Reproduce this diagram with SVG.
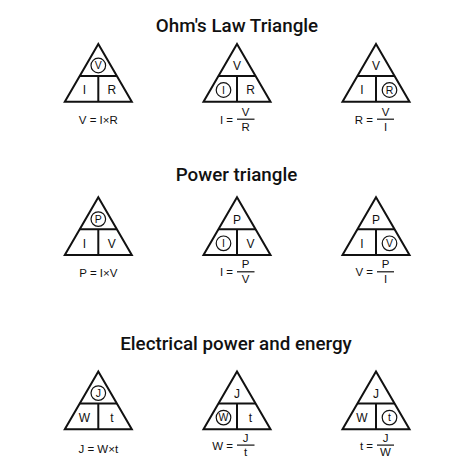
<svg xmlns="http://www.w3.org/2000/svg" width="474" height="474" viewBox="0 0 474 474">
<defs>
<style>
.tri{fill:none;stroke:#111;stroke-width:2;stroke-linejoin:miter}
.div{stroke:#111;stroke-width:2}
.c{fill:none;stroke:#111;stroke-width:1.2}
.fl{stroke:#111;stroke-width:1.2}
.t{font-family:"Roboto","Liberation Sans",sans-serif;font-weight:500;font-size:18.8px;fill:#111;text-anchor:middle}
.l{font-family:"Liberation Sans","Arial",sans-serif;font-size:12px;fill:#111;text-anchor:middle}
.lc{font-family:"Liberation Sans","Arial",sans-serif;font-size:10.5px;fill:#111;text-anchor:middle}
.f{font-family:"Liberation Sans","Arial",sans-serif;font-size:11.5px;fill:#111;text-anchor:middle}
.fe{font-family:"Liberation Sans","Arial",sans-serif;font-size:11.5px;fill:#111;text-anchor:end}
</style>
<g id="shape">
<path class="tri" d="M0,0 L-33.5,57.7 L33.5,57.7 Z"/>
<line class="div" x1="-18.6" y1="32" x2="18.6" y2="32"/>
<line class="div" x1="0" y1="32" x2="0" y2="57.7"/>
</g>
</defs>
<rect width="474" height="474" fill="#fff"/>

<text class="t" x="237" y="31.5">Ohm's Law Triangle</text>
<text class="t" x="236.5" y="181">Power triangle</text>
<text class="t" x="236" y="350">Electrical power and energy</text>

<!-- Row 1 -->
<g id="ohm-v" transform="translate(98.3,44)">
<use href="#shape"/>
<circle class="c" cx="0" cy="21.5" r="7.3"/>
<text class="lc" x="0" y="25.3">V</text>
<text class="l" x="-14" y="50.3">I</text>
<text class="l" x="13.5" y="50.3">R</text>
<text class="f" x="0" y="80.2">V = I×R</text>
</g>
<g id="ohm-i" transform="translate(237,44)">
<use href="#shape"/>
<text class="l" x="0" y="26.3">V</text>
<circle class="c" cx="-13.5" cy="46" r="7.3"/>
<text class="lc" x="-13.5" y="49.8">I</text>
<text class="l" x="13.5" y="50.3">R</text>
<text class="fe" x="-4" y="79.5">I =</text>
<line class="fl" x1="0" y1="75.2" x2="17.5" y2="75.2"/>
<text class="f" x="8.7" y="72">V</text>
<text class="f" x="8.7" y="87">R</text>
</g>
<g id="ohm-r" transform="translate(376,44)">
<use href="#shape"/>
<text class="l" x="0" y="26.3">V</text>
<text class="l" x="-14" y="50.3">I</text>
<circle class="c" cx="13.5" cy="46" r="7.3"/>
<text class="lc" x="13.5" y="49.8">R</text>
<text class="fe" x="-3" y="79.5">R =</text>
<line class="fl" x1="1" y1="75.2" x2="18" y2="75.2"/>
<text class="f" x="9.5" y="72">V</text>
<text class="f" x="9.5" y="87">I</text>
</g>

<!-- Row 2 -->
<g id="pow-p" transform="translate(98.3,197.3)">
<use href="#shape"/>
<circle class="c" cx="0" cy="21.8" r="7.3"/>
<text class="lc" x="0" y="25.6">P</text>
<text class="l" x="-14" y="50.3">I</text>
<text class="l" x="13.5" y="50.3">V</text>
<text class="f" x="0" y="80">P = I×V</text>
</g>
<g id="pow-i" transform="translate(237,197.3)">
<use href="#shape"/>
<text class="l" x="0" y="26.3">P</text>
<circle class="c" cx="-13.5" cy="46" r="7.3"/>
<text class="lc" x="-13.5" y="49.8">I</text>
<text class="l" x="13.5" y="50.3">V</text>
<text class="fe" x="-4" y="79">I =</text>
<line class="fl" x1="0" y1="74.5" x2="17.5" y2="74.5"/>
<text class="f" x="8.7" y="71">P</text>
<text class="f" x="8.7" y="86">V</text>
</g>
<g id="pow-v" transform="translate(376,197.3)">
<use href="#shape"/>
<text class="l" x="0" y="26.3">P</text>
<text class="l" x="-14" y="50.3">I</text>
<circle class="c" cx="13.5" cy="46" r="7.3"/>
<text class="lc" x="13.5" y="49.8">V</text>
<text class="fe" x="-3" y="79">V =</text>
<line class="fl" x1="1" y1="74.5" x2="18" y2="74.5"/>
<text class="f" x="9.5" y="71">P</text>
<text class="f" x="9.5" y="86">I</text>
</g>

<!-- Row 3 -->
<g id="en-j" transform="translate(98.3,371.6)">
<use href="#shape"/>
<circle class="c" cx="0" cy="21.5" r="7.3"/>
<text class="lc" x="0" y="25.3">J</text>
<text class="l" x="-14" y="50.3">W</text>
<text class="l" x="13.5" y="50.3">t</text>
<text class="f" x="0" y="81">J = W×t</text>
</g>
<g id="en-w" transform="translate(237,371.6)">
<use href="#shape"/>
<text class="l" x="0" y="26.3">J</text>
<circle class="c" cx="-13.5" cy="46" r="7.3"/>
<text class="lc" x="-13.5" y="49.8">W</text>
<text class="l" x="13.5" y="50.3">t</text>
<text class="fe" x="-4" y="78.5">W =</text>
<line class="fl" x1="0" y1="73.5" x2="17.5" y2="73.5"/>
<text class="f" x="8.7" y="70.5">J</text>
<text class="f" x="8.7" y="84.5">t</text>
</g>
<g id="en-t" transform="translate(376,371.6)">
<use href="#shape"/>
<text class="l" x="0" y="26.3">J</text>
<text class="l" x="-14" y="50.3">W</text>
<circle class="c" cx="13.5" cy="46" r="7.3"/>
<text class="lc" x="13.5" y="49.8">t</text>
<text class="fe" x="-3" y="78.5">t =</text>
<line class="fl" x1="1" y1="73.5" x2="18" y2="73.5"/>
<text class="f" x="9.5" y="70.5">J</text>
<text class="f" x="9.5" y="84.5">W</text>
</g>
</svg>
